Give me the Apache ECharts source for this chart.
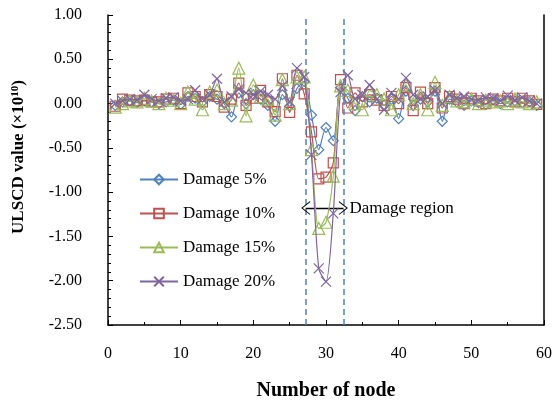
<!DOCTYPE html>
<html><head><meta charset="utf-8">
<script src="https://cdn.jsdelivr.net/npm/echarts@6/dist/echarts.min.js"></script>
<style>html,body{margin:0;padding:0;background:#fff}#c{width:552px;height:402px}</style>
</head><body><div id="c"></div>
<script>
var nodes = [];
for (var i = 1; i <= 59; i++) nodes.push(i);
var seriesNames = ['Damage 5%', 'Damage 10%', 'Damage 15%', 'Damage 20%'];
var dmg5 = [-0.02,0.02,0.03,0.01,0.03,0.02,0.00,0.02,0.04,-0.01,0.08,0.06,0.02,0.08,0.05,0.00,-0.15,0.12,0.00,0.10,0.05,-0.02,-0.20,0.10,-0.03,0.17,0.25,-0.13,-0.52,-0.27,-0.42,0.18,0.06,-0.08,0.08,0.02,0.06,-0.02,0.05,-0.17,0.14,-0.02,0.05,0.02,0.14,-0.20,0.05,0.02,-0.02,0.03,0.01,-0.01,0.04,0.00,0.02,0.03,0.01,0.02,-0.02];
var dmg10 = [-0.03,0.05,0.04,0.03,0.04,0.02,0.02,0.05,0.06,0.00,0.12,0.08,0.02,0.10,0.08,-0.04,0.05,0.23,-0.02,0.06,0.15,0.02,-0.09,0.28,-0.10,0.32,0.11,-0.32,-0.85,-0.83,-0.67,0.27,-0.05,0.12,0.02,0.10,0.04,-0.02,0.08,0.00,0.18,-0.08,0.13,0.00,0.18,-0.05,0.08,0.05,0.00,0.06,0.03,0.00,0.05,0.03,0.06,0.02,0.06,0.03,-0.01];
var dmg15 = [-0.04,0.00,0.03,0.02,0.06,0.03,0.00,0.06,0.04,0.00,0.13,0.05,-0.07,0.13,0.15,0.00,0.04,0.40,-0.14,0.21,0.08,0.05,-0.13,0.27,0.00,0.30,0.30,-0.52,-1.41,-1.34,-0.82,0.20,0.15,0.00,-0.07,0.15,0.10,0.05,-0.07,0.10,0.21,0.00,0.10,-0.07,0.24,-0.02,0.08,0.03,0.02,0.05,0.00,0.04,0.02,0.03,0.00,0.05,0.02,0.00,0.02];
var dmg20 = [0.00,0.03,0.05,0.04,0.10,0.05,0.03,0.06,0.07,0.03,0.05,0.15,0.05,0.10,0.28,0.02,0.08,0.16,0.12,0.10,0.14,0.10,0.05,0.20,0.02,0.40,0.30,-0.58,-1.86,-2.01,-1.24,0.13,0.32,0.05,0.10,0.21,0.05,-0.07,0.12,0.05,0.29,0.10,0.05,0.08,0.15,0.00,0.10,0.06,0.08,0.05,0.04,0.07,0.06,0.03,0.09,0.04,0.07,0.03,0.00];
var damageBounds = [27.2, 32.4];
var arrowY = -1.18;
var regionLabel = 'Damage region';
var yTitle = '{a|ULSCD value (×10}{s|10}{a|)}';
var xTitle = 'Number of node';

var colors = ['#4F81BD', '#C0504D', '#9BBB59', '#8064A2'];
var symbols = ['diamond', 'rect', 'triangle', 'path://M0,0L10,10M10,0L0,10'];
var sizes = [10, 10, 12, 10];
var allData = [dmg5, dmg10, dmg15, dmg20];
var font = 'Liberation Serif';

function pairs(arr){ return arr.map(function(v,i){ return [nodes[i], v]; }); }

var series = allData.map(function(d, k){
  return {
    name: seriesNames[k], type: 'line', data: pairs(d), smooth: 0.25,
    symbol: symbols[k], symbolSize: sizes[k], color: colors[k],
    lineStyle: {width: 1.2, color: colors[k]},
    itemStyle: {color: 'rgba(255,255,255,0)', borderColor: colors[k], borderWidth: 1.2},
    z: 3 + k
  };
});
series.push({
  type: 'line', data: [], silent: true,
  markLine: {
    silent: true, symbol: 'none', animation: false,
    lineStyle: {type: [6, 4], color: '#4F81BD', width: 1.5},
    label: {show: false},
    data: [{xAxis: damageBounds[0]}, {xAxis: damageBounds[1]}]
  }
});
series.push({
  type: 'line', data: [], silent: true,
  markLine: {
    silent: true, animation: false,
    symbol: ['path://M0,0L10,14L8.5,14L0,2.5L-8.5,14L-10,14Z', 'path://M0,0L10,14L8.5,14L0,2.5L-8.5,14L-10,14Z'],
    symbolSize: [14, 9],
    lineStyle: {type: 'solid', color: '#000', width: 1.3},
    label: {show: true, position: 'end', formatter: regionLabel, color: '#000', fontFamily: font, fontSize: 17, distance: 6},
    data: [[{coord: [damageBounds[0], arrowY]}, {coord: [damageBounds[1], arrowY]}]]
  }
});

var chart = echarts.init(document.getElementById('c'), null, {renderer: 'canvas'});
chart.setOption({
  animation: false,
  backgroundColor: '#fff',
  grid: {left: 108, right: 8, top: 15, bottom: 77, containLabel: false, outerBoundsMode: 'none'},
  legend: {
    orient: 'vertical', left: 134, top: 166, itemGap: 17,
    itemWidth: 38, itemHeight: 12,
    data: seriesNames,
    textStyle: {fontFamily: font, fontSize: 17, color: '#000'}
  },
  graphic: [{
    type: 'text', x: 19, y: 157, rotation: Math.PI / 2,
    style: {
      text: yTitle, align: 'center', verticalAlign: 'middle',
      rich: {
        a: {fontFamily: font, fontSize: 17, fontWeight: 'bold', fill: '#000'},
        s: {fontFamily: font, fontSize: 11, fontWeight: 'bold', fill: '#000', verticalAlign: 'top', padding: [0,0,8,0]}
      }
    }
  }],
  xAxis: {
    type: 'value', min: 0, max: 60, interval: 10,
    name: xTitle, nameLocation: 'middle', nameGap: 56,
    nameTextStyle: {fontFamily: font, fontSize: 20, fontWeight: 'bold', color: '#000'},
    axisLine: {onZero: false, lineStyle: {color: '#000', width: 1.5}},
    axisTick: {inside: true, length: 5, lineStyle: {color: '#000'}},
    minorTick: {show: true, splitNumber: 2, length: 3, lineStyle: {color: '#000'}},
    splitLine: {show: false},
    axisLabel: {fontFamily: font, fontSize: 16, color: '#000', margin: 21}
  },
  yAxis: [{
    type: 'value', min: -2.5, max: 1.0, interval: 0.5,
    axisLine: {lineStyle: {color: '#000', width: 1.5}},
    axisTick: {inside: true, length: 5, lineStyle: {color: '#000'}},
    minorTick: {show: true, splitNumber: 5, length: 3, lineStyle: {color: '#000'}},
    splitLine: {show: false},
    axisLabel: {fontFamily: font, fontSize: 16, color: '#000', margin: 26, formatter: function(v){ return v.toFixed(2); }}
  }, {
    type: 'value', min: -2.5, max: 1.0, position: 'right',
    axisLine: {show: true, lineStyle: {color: '#000', width: 1.5}},
    axisTick: {show: false}, axisLabel: {show: false}, splitLine: {show: false}
  }],
  series: series
});
</script>
</body></html>
